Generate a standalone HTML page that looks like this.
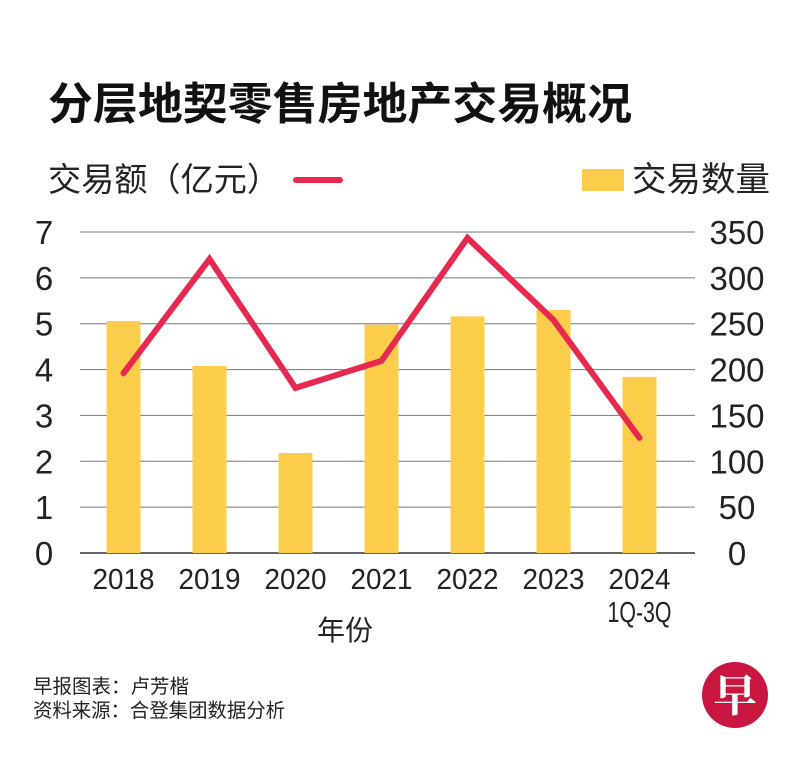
<!DOCTYPE html>
<html><head><meta charset="utf-8">
<style>
html,body{margin:0;padding:0;background:#fff;}
body{width:800px;height:762px;position:relative;overflow:hidden;font-family:"Liberation Sans","Noto Sans CJK SC",sans-serif;}
</style></head>
<body>
<svg id="chart" width="800" height="762" viewBox="0 0 800 762" xmlns="http://www.w3.org/2000/svg" style="position:absolute;left:0;top:0">
<text x="48" y="119" font-size="44" font-weight="bold" fill="#111" textLength="584" lengthAdjust="spacingAndGlyphs" font-family="Liberation Sans, Noto Sans CJK SC, sans-serif">分层地契零售房地产交易概况</text>
<text x="48" y="191" font-size="33" fill="#222" textLength="232" lengthAdjust="spacingAndGlyphs" font-family="Liberation Sans, Noto Sans CJK SC, sans-serif">交易额（亿元）</text>
<line x1="296" y1="180" x2="340" y2="180" stroke="#e8294f" stroke-width="6" stroke-linecap="round"/>
<rect x="582" y="169" width="42" height="22" fill="#fccd4a"/>
<text x="632" y="191" font-size="34" fill="#222" textLength="138" lengthAdjust="spacingAndGlyphs" font-family="Liberation Sans, Noto Sans CJK SC, sans-serif">交易数量</text>
<g id="grid"></g><g id="bars"></g><g id="line"></g><g id="axes"></g>
<text x="345" y="640" font-size="28" fill="#222" text-anchor="middle" font-family="Liberation Sans, Noto Sans CJK SC, sans-serif">年份</text>
<text x="33" y="693" font-size="19.5" fill="#222" font-family="Liberation Sans, Noto Sans CJK SC, sans-serif">早报图表：卢芳楷</text>
<text x="33" y="717" font-size="19.5" fill="#222" textLength="252" lengthAdjust="spacingAndGlyphs" font-family="Liberation Sans, Noto Sans CJK SC, sans-serif">资料来源：合登集团数据分析</text>
<g>
<circle cx="735" cy="695" r="33" fill="#c8163f"/>
<text x="735" y="711" font-size="44" font-weight="bold" fill="#fff" text-anchor="middle" font-family="Liberation Serif, Noto Serif CJK SC, serif">早</text>
</g>
</svg>
<script>
const categories = ["2018","2019","2020","2021","2022","2023","2024"];
const barValues = [253, 204, 109, 249, 258, 265, 192];
const lineValues = [3.92, 6.41, 3.6, 4.19, 6.87, 5.08, 2.51];
const leftTicks = [0,1,2,3,4,5,6,7];
const rightTicks = [0,50,100,150,200,250,300,350];

const NS = "http://www.w3.org/2000/svg";
const plotL = 80, plotR = 695, y0 = 553, yTop = 232;
const yL = v => y0 - (v / 7) * (y0 - yTop);
const yR = v => y0 - (v / 350) * (y0 - yTop);
const xC = i => 123.5 + i * 86;
function mk(tag, attrs, parent, text) {
  const e = document.createElementNS(NS, tag);
  for (const k in attrs) e.setAttribute(k, attrs[k]);
  if (text !== undefined) e.textContent = text;
  document.getElementById(parent).appendChild(e);
  return e;
}
leftTicks.forEach(t => {
  const y = yL(t);
  const g = mk("line", {x1: plotL, x2: plotR, y1: y, y2: y, stroke: t === 0 ? "#333" : "#777", "stroke-width": t === 0 ? 1.5 : 1}, "grid");
  
  
  const l = mk("text", {x: 44, y: y + 12, "font-size": 33, "text-anchor": "middle", fill: "#222"}, "axes", t);
  
  
});
rightTicks.forEach(t => {
  const r = mk("text", {x: 737, y: yR(t) + 12, "font-size": 33, "text-anchor": "middle", fill: "#222"}, "axes", t);
  
  
});
categories.forEach((c, i) => {
  const b = mk("rect", {x: xC(i) - 17, y: yR(barValues[i]), width: 34, height: y0 - yR(barValues[i]), fill: "#fccd4a"}, "bars");
  
  
  const t = mk("text", {x: xC(i), y: 589, "font-size": 29, "text-anchor": "middle", fill: "#222", textLength: 62, lengthAdjust: "spacingAndGlyphs"}, "axes", c);
  
  
});
const sub = mk("text", {x: xC(6), y: 622, "font-size": 29, "text-anchor": "middle", fill: "#222", textLength: 64, lengthAdjust: "spacingAndGlyphs"}, "axes", "1Q-3Q");


const pts = lineValues.map((v, i) => xC(i) + "," + yL(v)).join(" ");
const pl = mk("polyline", {points: pts, fill: "none", stroke: "#e8294f", "stroke-width": 6, "stroke-linejoin": "miter", "stroke-linecap": "round"}, "line");


</script>
</body></html>
